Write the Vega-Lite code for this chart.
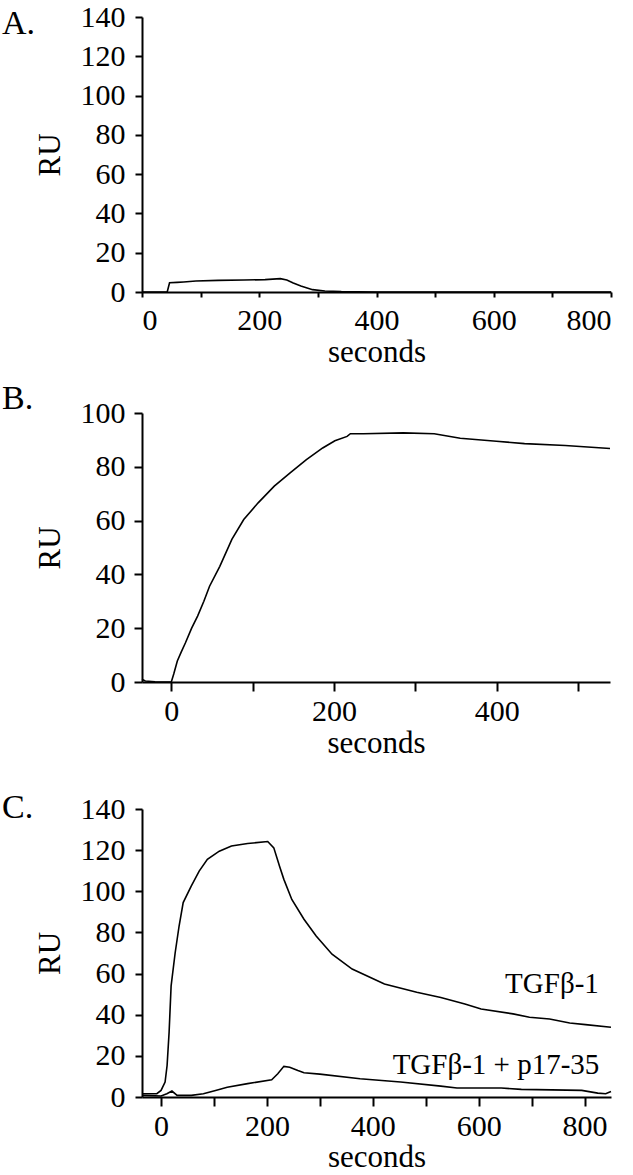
{
  "$schema": "https://vega.github.io/schema/vega-lite/v6.json",
  "background": "white",
  "padding": {"left": 2, "top": 2, "right": 5, "bottom": 2},
  "spacing": 15,
  "config": {
    "view": {"stroke": null},
    "font": "Liberation Serif",
    "style": {
      "guide-label": {"font": "Liberation Serif", "fontSize": 30, "fill": "black"},
      "guide-title": {"font": "Liberation Serif", "fontSize": 31, "fontWeight": "normal", "fill": "black"}
    },
    "axis": {
      "grid": false,
      "domainColor": "black",
      "domainWidth": 2,
      "tickColor": "black",
      "tickWidth": 2,
      "labelFont": "Liberation Serif",
      "labelFontSize": 30,
      "labelColor": "black",
      "titleFont": "Liberation Serif",
      "titleFontSize": 31,
      "titleFontWeight": "normal",
      "titleColor": "black"
    },
    "title": {"font": "Liberation Serif", "fontSize": 34, "fontWeight": "normal", "color": "black", "anchor": "start", "frame": "bounds"}
  },
  "resolve": {"scale": {"x": "independent", "y": "independent"}},
  "vconcat": [
    {
      "title": {"text": "A.", "dx": -32, "dy": 43},
      "width": 469,
      "height": 275,
      "data": {"values": [
        {"t": 0, "ru": 0}, {"t": 43, "ru": 0}, {"t": 47, "ru": 4.7}, {"t": 60, "ru": 4.9}, {"t": 71, "ru": 5.1},
        {"t": 92, "ru": 5.6}, {"t": 130, "ru": 5.9}, {"t": 174, "ru": 6.1}, {"t": 210, "ru": 6.3}, {"t": 236, "ru": 6.8},
        {"t": 247, "ru": 6.1}, {"t": 258, "ru": 4.6}, {"t": 271, "ru": 3.1}, {"t": 291, "ru": 1.2}, {"t": 312, "ru": 0.5},
        {"t": 340, "ru": 0.2}, {"t": 367, "ru": 0.1}, {"t": 400, "ru": 0}, {"t": 800, "ru": 0}
      ]},
      "mark": {"type": "line", "color": "black", "strokeWidth": 1.6},
      "encoding": {
        "x": {"field": "t", "type": "quantitative", "scale": {"domain": [0, 800], "nice": false, "zero": false},
          "axis": {"title": "seconds", "labelFont": "Liberation Serif", "titleFont": "Liberation Serif", "values": [0, 100, 200, 300, 400, 500, 600, 700, 800], "labelExpr": "datum.value % 200 === 0 ? datum.label : ''", "tickSize": 5, "labelPadding": 8, "titlePadding": 2}},
        "y": {"field": "ru", "type": "quantitative", "scale": {"domain": [0, 140], "nice": false},
          "axis": {"title": "RU", "labelFont": "Liberation Serif", "titleFont": "Liberation Serif", "values": [0, 20, 40, 60, 80, 100, 120, 140], "tickSize": 7, "labelPadding": 10, "titlePadding": 14}}
      }
    },
    {
      "spacing": 33,
      "resolve": {"scale": {"x": "independent", "y": "independent"}},
      "vconcat": [
        {
          "title": {"text": "B.", "dx": -32, "dy": 22},
          "width": 468,
          "height": 269,
          "data": {"values": [
            {"t": -36, "ru": 1.0}, {"t": -32, "ru": 0.4}, {"t": -20, "ru": 0.1}, {"t": 0, "ru": 0}, {"t": 3, "ru": 3},
            {"t": 7.4, "ru": 7.8}, {"t": 12, "ru": 11}, {"t": 17.4, "ru": 14.6}, {"t": 25, "ru": 20}, {"t": 32.3, "ru": 24.5},
            {"t": 40, "ru": 30}, {"t": 47, "ru": 35.6}, {"t": 59.6, "ru": 43}, {"t": 74.4, "ru": 53}, {"t": 89, "ru": 60.4},
            {"t": 106.7, "ru": 66.6}, {"t": 126.5, "ru": 72.8}, {"t": 146, "ru": 77.7}, {"t": 166, "ru": 82.7}, {"t": 186, "ru": 87},
            {"t": 201, "ru": 89.7}, {"t": 216, "ru": 91.3}, {"t": 220, "ru": 92.3}, {"t": 236, "ru": 92.3}, {"t": 285, "ru": 92.6},
            {"t": 323, "ru": 92.3}, {"t": 355, "ru": 90.6}, {"t": 399.5, "ru": 89.5}, {"t": 434, "ru": 88.6}, {"t": 484, "ru": 87.9},
            {"t": 539, "ru": 86.8}
          ]},
          "mark": {"type": "line", "color": "black", "strokeWidth": 1.6},
          "encoding": {
            "x": {"field": "t", "type": "quantitative", "scale": {"domain": [-36, 539], "nice": false, "zero": false},
              "axis": {"title": "seconds", "labelFont": "Liberation Serif", "titleFont": "Liberation Serif", "values": [0, 100, 200, 300, 400, 500], "labelExpr": "datum.value % 200 === 0 ? datum.label : ''", "tickSize": 9, "labelPadding": 5, "titlePadding": 2}},
            "y": {"field": "ru", "type": "quantitative", "scale": {"domain": [0, 100], "nice": false},
              "axis": {"title": "RU", "labelFont": "Liberation Serif", "titleFont": "Liberation Serif", "values": [0, 20, 40, 60, 80, 100], "tickSize": 8, "labelPadding": 9, "titlePadding": 14}}
          }
        },
        {
          "title": {"text": "C.", "dx": -32, "dy": 35},
          "width": 469,
          "height": 288,
          "layer": [
            {
              "data": {"values": [
                {"series": "TGFβ-1", "t": -36, "ru": 1.6}, {"series": "TGFβ-1", "t": -8, "ru": 1.6}, {"series": "TGFβ-1", "t": 0, "ru": 3.2},
                {"series": "TGFβ-1", "t": 7.6, "ru": 7.3}, {"series": "TGFβ-1", "t": 11.4, "ru": 15.3}, {"series": "TGFβ-1", "t": 15.2, "ru": 31.5},
                {"series": "TGFβ-1", "t": 19, "ru": 54}, {"series": "TGFβ-1", "t": 26.6, "ru": 70}, {"series": "TGFβ-1", "t": 34, "ru": 83},
                {"series": "TGFβ-1", "t": 41.8, "ru": 94.5}, {"series": "TGFβ-1", "t": 57, "ru": 102.5}, {"series": "TGFβ-1", "t": 72, "ru": 109.8},
                {"series": "TGFβ-1", "t": 87.5, "ru": 115.5}, {"series": "TGFβ-1", "t": 110, "ru": 119.5}, {"series": "TGFβ-1", "t": 133, "ru": 122},
                {"series": "TGFβ-1", "t": 163.5, "ru": 123.2}, {"series": "TGFβ-1", "t": 201.5, "ru": 124.2}, {"series": "TGFβ-1", "t": 213, "ru": 121.1},
                {"series": "TGFβ-1", "t": 224, "ru": 112}, {"series": "TGFβ-1", "t": 232, "ru": 105.8}, {"series": "TGFβ-1", "t": 247, "ru": 96},
                {"series": "TGFβ-1", "t": 270, "ru": 86.4}, {"series": "TGFβ-1", "t": 293, "ru": 78.3}, {"series": "TGFβ-1", "t": 323, "ru": 69.4},
                {"series": "TGFβ-1", "t": 361, "ru": 62.2}, {"series": "TGFβ-1", "t": 422, "ru": 54.9}, {"series": "TGFβ-1", "t": 483, "ru": 50.9},
                {"series": "TGFβ-1", "t": 528.5, "ru": 48.4}, {"series": "TGFβ-1", "t": 574, "ru": 45.2}, {"series": "TGFβ-1", "t": 604.6, "ru": 42.8},
                {"series": "TGFβ-1", "t": 665, "ru": 40.4}, {"series": "TGFβ-1", "t": 696, "ru": 38.8}, {"series": "TGFβ-1", "t": 734, "ru": 37.9},
                {"series": "TGFβ-1", "t": 772, "ru": 36}, {"series": "TGFβ-1", "t": 802, "ru": 35.2}, {"series": "TGFβ-1", "t": 850, "ru": 33.9},
                {"series": "TGFβ-1 + p17-35", "t": -36, "ru": 0.8}, {"series": "TGFβ-1 + p17-35", "t": 0, "ru": 0.5}, {"series": "TGFβ-1 + p17-35", "t": 11, "ru": 1.6},
                {"series": "TGFβ-1 + p17-35", "t": 20.5, "ru": 2.9}, {"series": "TGFβ-1 + p17-35", "t": 30.4, "ru": 0.8}, {"series": "TGFβ-1 + p17-35", "t": 57, "ru": 0.8},
                {"series": "TGFβ-1 + p17-35", "t": 80, "ru": 1.6}, {"series": "TGFβ-1 + p17-35", "t": 103, "ru": 3.2}, {"series": "TGFβ-1 + p17-35", "t": 125, "ru": 4.7},
                {"series": "TGFβ-1 + p17-35", "t": 163.5, "ru": 6.5}, {"series": "TGFβ-1 + p17-35", "t": 209, "ru": 8.4}, {"series": "TGFβ-1 + p17-35", "t": 220.5, "ru": 11.3},
                {"series": "TGFβ-1 + p17-35", "t": 232, "ru": 14.9}, {"series": "TGFβ-1 + p17-35", "t": 243, "ru": 14.5}, {"series": "TGFβ-1 + p17-35", "t": 258.5, "ru": 12.9},
                {"series": "TGFβ-1 + p17-35", "t": 270, "ru": 11.8}, {"series": "TGFβ-1 + p17-35", "t": 300, "ru": 11.1}, {"series": "TGFβ-1 + p17-35", "t": 376, "ru": 8.9},
                {"series": "TGFβ-1 + p17-35", "t": 452.5, "ru": 7.3}, {"series": "TGFβ-1 + p17-35", "t": 528.5, "ru": 5.3}, {"series": "TGFβ-1 + p17-35", "t": 559, "ru": 4.4},
                {"series": "TGFβ-1 + p17-35", "t": 642.6, "ru": 4.4}, {"series": "TGFβ-1 + p17-35", "t": 680.6, "ru": 3.7}, {"series": "TGFβ-1 + p17-35", "t": 794.7, "ru": 3.2},
                {"series": "TGFβ-1 + p17-35", "t": 825, "ru": 1.9}, {"series": "TGFβ-1 + p17-35", "t": 840, "ru": 1.6}, {"series": "TGFβ-1 + p17-35", "t": 850, "ru": 2.7}
              ]},
              "mark": {"type": "line", "color": "black", "strokeWidth": 1.6},
              "encoding": {
                "x": {"field": "t", "type": "quantitative", "scale": {"domain": [-36, 850], "nice": false, "zero": false},
                  "axis": {"title": "seconds", "labelFont": "Liberation Serif", "titleFont": "Liberation Serif", "values": [0, 100, 200, 300, 400, 500, 600, 700, 800], "labelExpr": "datum.value % 200 === 0 ? datum.label : ''", "tickSize": 9, "labelPadding": 5, "titlePadding": 1}},
                "y": {"field": "ru", "type": "quantitative", "scale": {"domain": [0, 140], "nice": false},
                  "axis": {"title": "RU", "labelFont": "Liberation Serif", "titleFont": "Liberation Serif", "values": [0, 20, 40, 60, 80, 100, 120, 140], "tickSize": 7, "labelPadding": 10, "titlePadding": 14}},
                "detail": {"field": "series", "type": "nominal"}
              }
            },
            {
              "data": {"values": [{"label": "TGFβ-1"}]},
              "mark": {"type": "text", "align": "right", "baseline": "alphabetic", "font": "Liberation Serif", "fontSize": 29, "color": "black"},
              "encoding": {"x": {"datum": 827}, "y": {"datum": 50.4}, "text": {"field": "label"}}
            },
            {
              "data": {"values": [{"label": "TGFβ-1 + p17-35"}]},
              "mark": {"type": "text", "align": "right", "baseline": "alphabetic", "font": "Liberation Serif", "fontSize": 29, "color": "black"},
              "encoding": {"x": {"datum": 828}, "y": {"datum": 11.3}, "text": {"field": "label"}}
            }
          ]
        }
      ]
    }
  ]
}
